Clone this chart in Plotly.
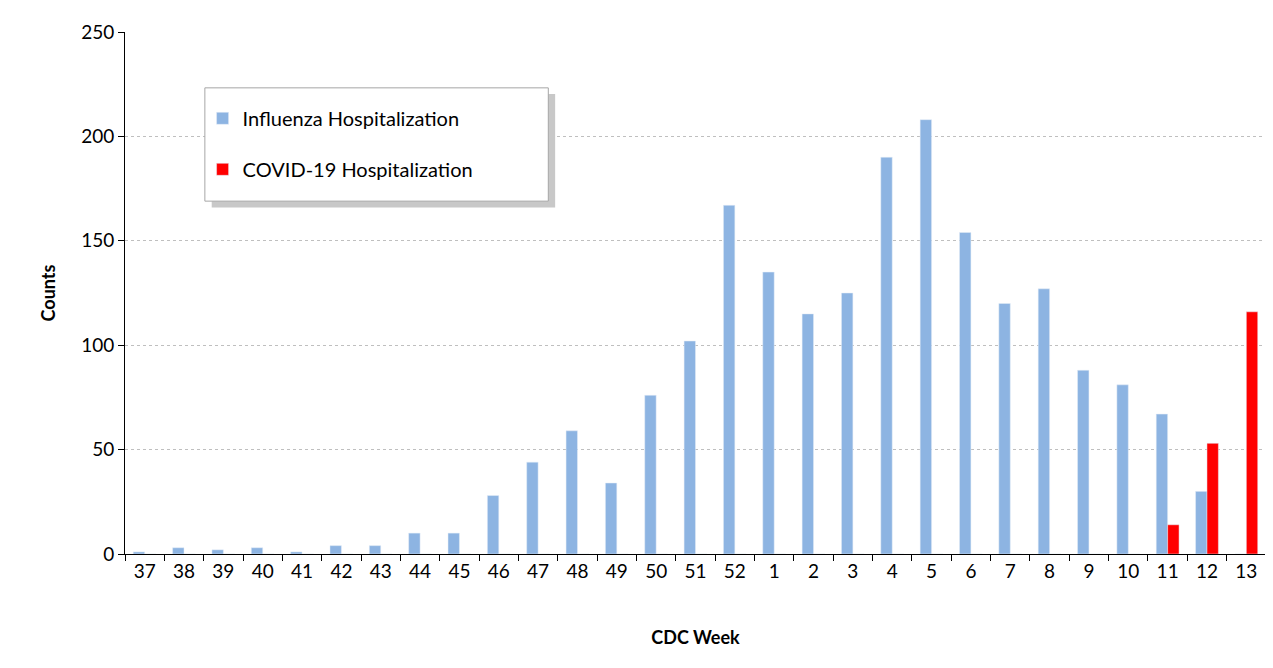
import plotly.graph_objects as go

weeks = ["37", "38", "39", "40", "41", "42", "43", "44", "45", "46", "47", "48", "49", "50",
         "51", "52", "1", "2", "3", "4", "5", "6", "7", "8", "9", "10", "11", "12", "13"]
influenza = [1, 3, 2, 3, 1, 4, 4, 10, 10, 28, 44, 59, 34, 76,
             102, 167, 135, 115, 125, 190, 208, 154, 120, 127, 88, 81, 67, 30, 0]
covid = [0, 0, 0, 0, 0, 0, 0, 0, 0, 0, 0, 0, 0, 0,
         0, 0, 0, 0, 0, 0, 0, 0, 0, 0, 0, 0, 14, 53, 116]

fig = go.Figure()
fig.add_trace(go.Bar(x=weeks, y=influenza, name="Influenza Hospitalization",
                     marker_color="#8db4e2", legendgroup="a"))
fig.add_trace(go.Bar(x=weeks, y=covid, name="COVID-19 Hospitalization",
                     marker_color="#ff0000", legendgroup="b"))

# legend box with shadow
fig.add_shape(type="rect", xref="paper", yref="paper",
              x0=0.076, x1=0.377, y0=0.664, y1=0.881,
              fillcolor="#c8c8c8", line_width=0, layer="above")
fig.add_shape(type="rect", xref="paper", yref="paper",
              x0=0.070, x1=0.371, y0=0.676, y1=0.893,
              fillcolor="white", line=dict(color="#a6a6a6", width=1), layer="above")

fig.update_layout(
    width=1273, height=668,
    margin=dict(l=117, r=15, t=24, b=122),
    plot_bgcolor="white", paper_bgcolor="white",
    font=dict(family="Lato, Open Sans, sans-serif", size=19, color="black"),
    barmode="group", bargap=0.42, bargroupgap=0,
    showlegend=True,
    legend=dict(x=0.068, y=0.872, xanchor="left", yanchor="top",
                bgcolor="rgba(0,0,0,0)", borderwidth=0,
                font=dict(size=20), tracegroupgap=22, itemwidth=30),
    xaxis=dict(title=dict(text="<b>CDC Week</b>", standoff=50, font=dict(size=18)),
               showline=True, linecolor="black", ticks="outside",
               tickson="boundaries", ticklen=6, tickcolor="black",
               tickfont=dict(size=19)),
    yaxis=dict(title=dict(text="<b>Counts</b>", font=dict(size=18), standoff=20),
               range=[0, 250], dtick=50, showline=True, linecolor="black",
               ticks="outside", ticklen=6, tickcolor="black", tickfont=dict(size=19),
               showgrid=True, gridcolor="#bfbfbf", griddash="dot", zeroline=False),
)

fig.write_html("out.html")
